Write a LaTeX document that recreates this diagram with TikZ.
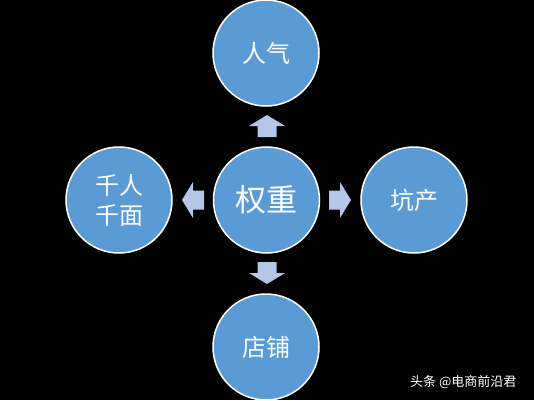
\documentclass[tikz,border=0pt]{standalone}
\usepackage{fontspec}
\newfontfamily\cjk{Noto Sans CJK SC}
\definecolor{bubfill}{RGB}{91,155,213}
\definecolor{arrowfill}{RGB}{180,199,231}
\tikzset{
  bub/.style={circle, fill=bubfill, draw=white, line width=1.5pt, minimum size=106pt, inner sep=0pt, text=white, font=\cjk\fontsize{24}{30}\selectfont, align=center},
  bigbub/.style={bub, font=\cjk\fontsize{31}{36}\selectfont},
  blockarrow/.style={fill=arrowfill},
  mark text/.style={text=white, font=\cjk\fontsize{13}{15}\selectfont, inner sep=0pt}
}
\newcommand\drawblockarrow[2]{%
  \fill[blockarrow, shift={#1}, rotate=#2] (0,-9.5) -- (11,-9.5) -- (11,-18) -- (22,0) -- (11,18) -- (11,9.5) -- (0,9.5) -- cycle;}
\begin{document}
\begin{tikzpicture}[x=1pt, y=-1pt]
\useasboundingbox (0,0) rectangle (534,400);
\fill[black] (0,0) rectangle (534,400);
\node[bigbub] (center) at (266.5,200) {权重};
\node[bub] (top) at (266,53) {人气};
\node[bub] (bottom) at (266,347) {店铺};
\node[bub] (left) at (119,200) {千人\\千面};
\node[bub] (right) at (414,200) {坑产};
\drawblockarrow{(267,137)}{90}
\drawblockarrow{(267,262)}{-90}
\drawblockarrow{(204,200)}{180}
\drawblockarrow{(329,200)}{0}
\node[mark text, anchor=west] (mark) at (410,382) {头条 @电商前沿君};
\end{tikzpicture}
\end{document}
